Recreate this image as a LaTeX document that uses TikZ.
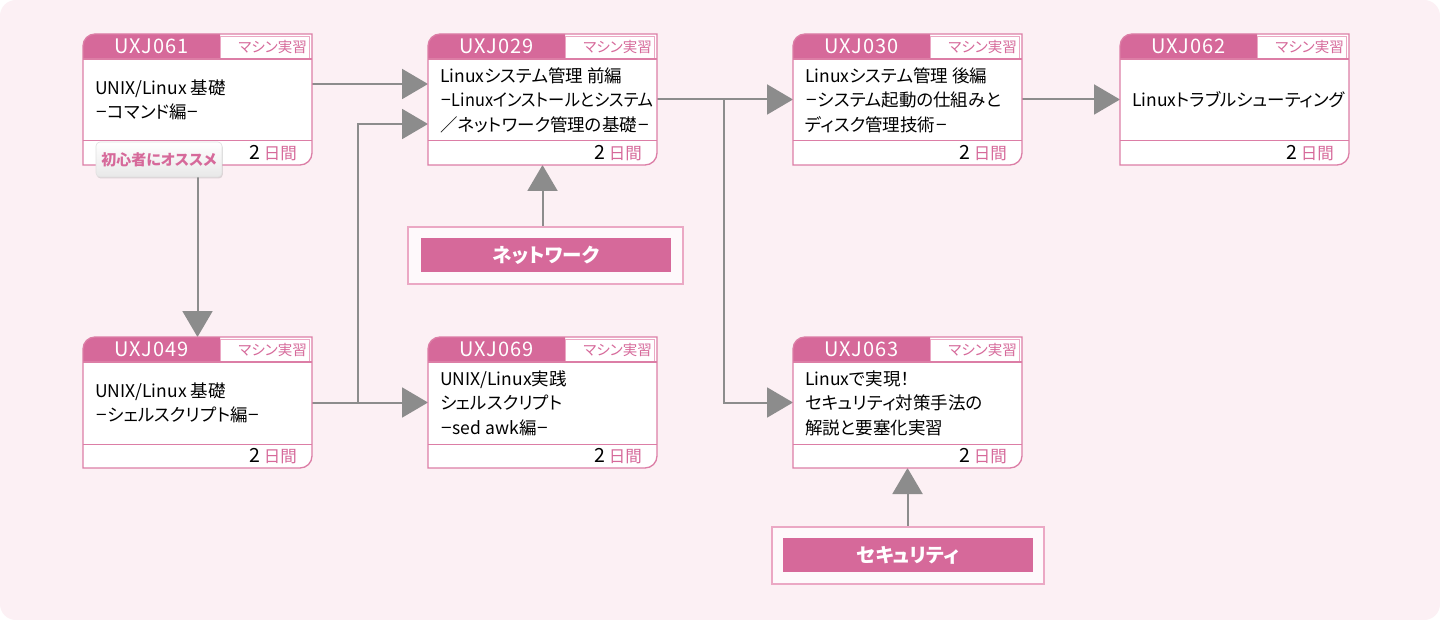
\documentclass[tikz,border=0pt]{standalone}
\usepackage{fontspec}
\setmainfont{Noto Sans CJK JP}[RawFeature=+palt]
\usetikzlibrary{arrows.meta,shadows}
\pgfdeclarelayer{back}
\pgfdeclarelayer{lines}
\pgfsetlayers{back,lines,main}
\definecolor{pk}{HTML}{D6699A}
\definecolor{pkline}{HTML}{DC7EA6}
\definecolor{pklt}{HTML}{EBA8C4}
\definecolor{bgc}{HTML}{FCF0F4}
\definecolor{ar}{HTML}{8C8C8C}
\tikzset{
  cardnode/.style={minimum width=229pt,minimum height=131pt,inner sep=0pt,outer sep=0pt},
  cardline/.style={draw=pkline,line width=1.3pt},
  codetxt/.style={text=white,font=\fontsize{20}{20}\selectfont\addfontfeatures{LetterSpace=4},inner sep=0pt},
  labtxt/.style={text=pk,font=\fontsize{14.5}{14.5}\selectfont,inner sep=0pt},
  bodytxt/.style={text=black,font=\fontsize{17.5}{24.5}\selectfont,align=left,inner sep=0pt},
  conn/.style={draw=ar,line width=2pt},
  arr/.style={conn,-{Triangle[length=26pt,width=30pt]}},
  outerbox/.style={draw=pklt,line width=1.2pt,fill=white!60!bgc,minimum width=#1,minimum height=57pt,inner sep=0pt},
  barbox/.style={fill=pk,text=white,font=\bfseries\fontsize{19.5}{19.5}\selectfont,minimum width=250pt,minimum height=34pt,inner sep=0pt},
  badge/.style={draw=black!12,line width=0.6pt,rounded corners=4pt,top color=white,bottom color=black!9,
    drop shadow={shadow xshift=0.8pt,shadow yshift=-1.5pt,opacity=0.25},
    text=pk,font=\bfseries\fontsize{15}{15}\selectfont,minimum width=126pt,minimum height=35pt,inner sep=0pt}
}
\newcommand\course[5]{%
  \node[cardnode] (#1) at (#2+114.5,#3+65.5) {};
  \fill[white] (#2,#3+111) [rounded corners=12pt] -- (#2,#3) [sharp corners] -- (#2+229,#3) [rounded corners=12pt] -- (#2+229,#3+131) [sharp corners] -- (#2,#3+131) -- cycle;
  \fill[pk] (#2,#3+25) [rounded corners=12pt] -- (#2,#3) [sharp corners] -- (#2+137,#3) -- (#2+137,#3+25) -- cycle;
  \draw[draw=pklt,line width=0.8pt] (#2+137,#3+2.5) rectangle (#2+226.5,#3+25);
  \draw[cardline] (#2,#3+25) -- (#2+229,#3+25);
  \draw[cardline,line width=1pt] (#2,#3+107) -- (#2+229,#3+107);
  \draw[cardline] (#2,#3+111) [rounded corners=12pt] -- (#2,#3) [sharp corners] -- (#2+229,#3) [rounded corners=12pt] -- (#2+229,#3+131) [sharp corners] -- (#2,#3+131) -- cycle;
  \node[codetxt] at (#2+68.5,#3+12.5) {#4};
  \node[labtxt,anchor=east] at (#2+224,#3+13.5) {マシン実習};
  \node[bodytxt,anchor=west] at (#2+12,#3+66) {#5};
  \node[anchor=east,inner sep=0pt] at (#2+214,#3+119.5) {\fontsize{19.5}{19.5}\selectfont 2\hspace{3pt}\textcolor{pk}{\fontsize{16.5}{16.5}\selectfont 日間}};
}
\newcommand\narrow[1]{\scalebox{0.93}[1]{#1}}
\newcommand\dsh{\scalebox{0.72}[1]{－}}
\begin{document}
\begin{tikzpicture}[x=1pt,y=-1pt]
\begin{pgfonlayer}{back}
  \fill[white] (0,0) rectangle (1440,620);
  \fill[bgc,rounded corners=16pt] (0,0) rectangle (1440,620);
\end{pgfonlayer}
\useasboundingbox (0,0) rectangle (1440,620);

\course{c061}{83}{34}{UXJ061}{UNIX/Linux 基礎\\\dsh コマンド編\dsh}
\course{c029}{428}{34}{UXJ029}{Linuxシステム管理 前編\\\narrow{\dsh Linuxインストールとシステム}\\／ネットワーク管理の基礎\dsh}
\course{c030}{793}{34}{UXJ030}{Linuxシステム管理 後編\\\dsh システム起動の仕組みと\\ディスク管理技術\dsh}
\course{c062}{1120}{34}{UXJ062}{Linuxトラブルシューティング}
\course{c049}{83}{337}{UXJ049}{UNIX/Linux 基礎\\\dsh シェルスクリプト編\dsh}
\course{c069}{428}{337}{UXJ069}{UNIX/Linux実践\\シェルスクリプト\\\dsh sed awk編\dsh}
\course{c063}{793}{337}{UXJ063}{Linuxで実現！\\セキュリティ対策手法の\\解説と要塞化実習}

\node[badge] (b061) at (159,159.5) {初心者にオススメ};

\node[outerbox=275pt] (netbox) at (545.5,255.5) {};
\node[barbox] (net) at (546,255) {ネットワーク};
\node[outerbox=272pt] (secbox) at (908,555.5) {};
\node[barbox] (sec) at (908,555) {セキュリティ};

\coordinate (j1) at (358,402.5);
\coordinate (j2) at (724,99.5);

\begin{pgfonlayer}{lines}
  \draw[arr] ([yshift=15.5pt]c061.east) -- ([yshift=15.5pt]c029.west);
  \draw[conn] (c049.east) -- (j1);
  \draw[arr] (j1) |- ([yshift=-24.5pt]c029.west);
  \draw[arr] (c049.east) -- (c069.west);
  \draw[arr] (c029.east) -- (c030.west);
  \draw[arr] (j2) |- (c063.west);
  \draw[arr] (c030.east) -- (c062.west);
  \draw[arr] (c061.south) -- (c049.north);
  \draw[arr] (c029.south |- netbox.north) -- (c029.south);
  \draw[arr] (c063.south |- secbox.north) -- (c063.south);
\end{pgfonlayer}
\end{tikzpicture}
\end{document}
